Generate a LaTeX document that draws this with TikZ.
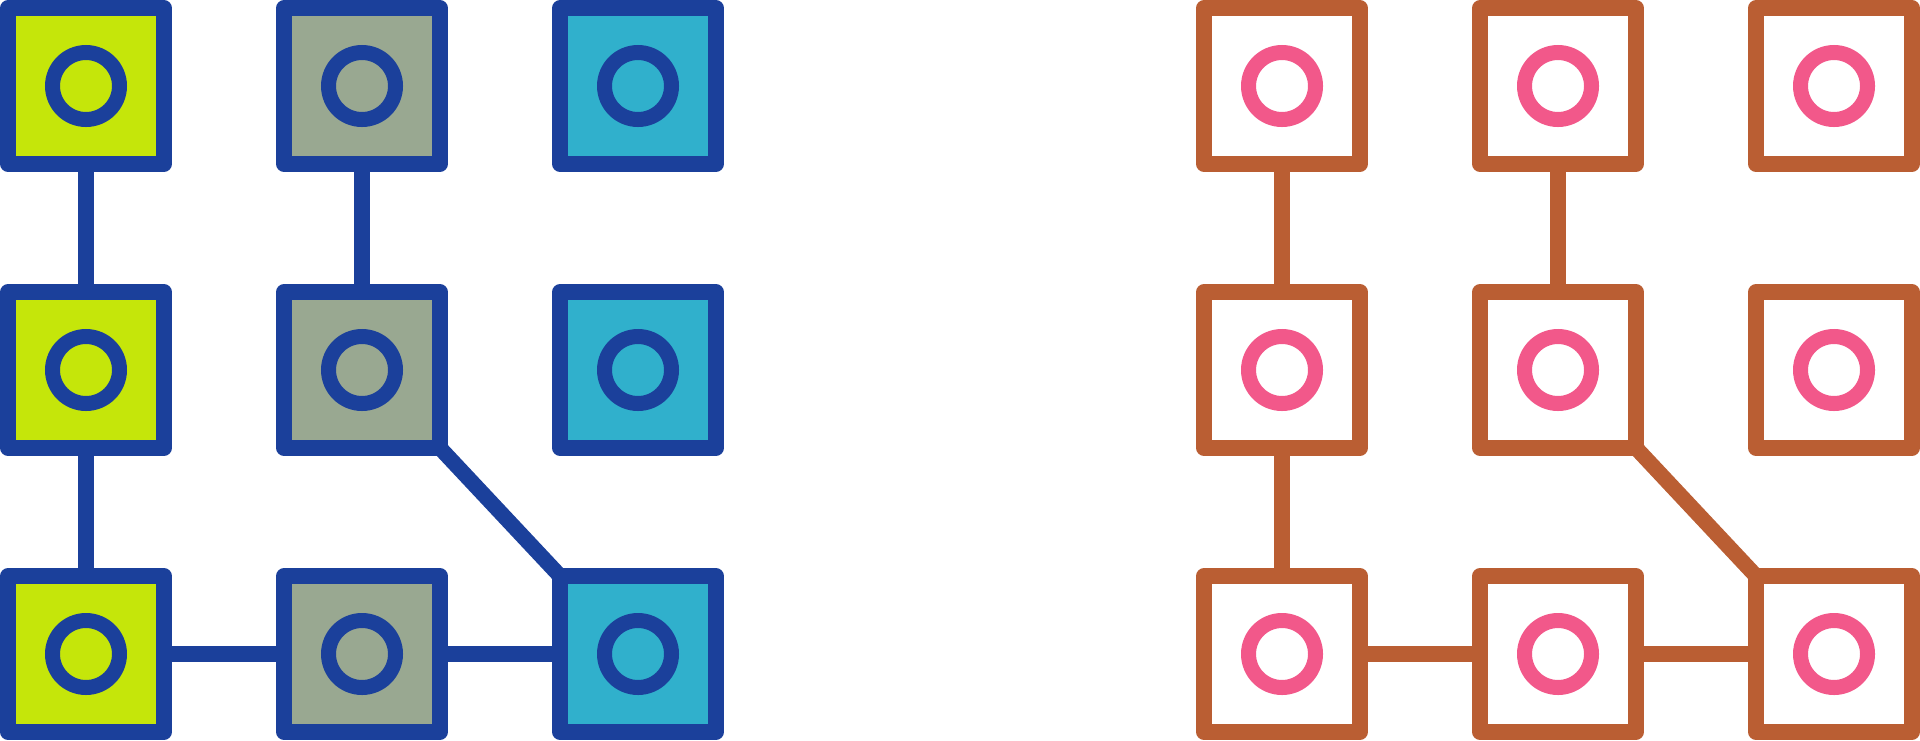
\documentclass[tikz,border=0pt]{standalone}
\definecolor{frameblue}{RGB}{27,64,155}
\definecolor{limefill}{RGB}{197,230,10}
\definecolor{sagefill}{RGB}{153,168,145}
\definecolor{cyanfill}{RGB}{48,176,204}
\definecolor{rustline}{RGB}{186,94,51}
\definecolor{rosedot}{RGB}{242,88,138}
\tikzset{every picture/.style={line width=0.75pt}}
\tikzset{
	tile/.style={draw, rectangle, minimum size=78pt, inner sep=0pt, outer sep=0pt, line width=7.75pt, line join=round},
	dot/.style={draw, circle, minimum size=33.5pt, inner sep=0pt, outer sep=0pt, line width=7.5pt},
	link/.style={line width=7.75pt}}
\begin{document}
\begin{tikzpicture}[x=0.5pt,y=0.5pt,yscale=-1,xscale=1]
	\useasboundingbox (0,0) rectangle (1920,740);
	
	%Shape: Square -- coloured icon, column 1
	\node [tile, draw=frameblue, fill=limefill] (L11) at (86,86) {};
	\node [tile, draw=frameblue, fill=limefill] (L21) at (86,370) {};
	\node [tile, draw=frameblue, fill=limefill] (L31) at (86,654) {};
	%Shape: Square -- coloured icon, column 2
	\node [tile, draw=frameblue, fill=sagefill] (L12) at (362,86) {};
	\node [tile, draw=frameblue, fill=sagefill] (L22) at (362,370) {};
	\node [tile, draw=frameblue, fill=sagefill] (L32) at (362,654) {};
	%Shape: Square -- coloured icon, column 3
	\node [tile, draw=frameblue, fill=cyanfill] (L13) at (638,86) {};
	\node [tile, draw=frameblue, fill=cyanfill] (L23) at (638,370) {};
	\node [tile, draw=frameblue, fill=cyanfill] (L33) at (638,654) {};
	
	%Shape: Circle -- coloured icon
	\node [dot, draw=frameblue] (L11c) at (L11) {};
	\node [dot, draw=frameblue] (L21c) at (L21) {};
	\node [dot, draw=frameblue] (L31c) at (L31) {};
	\node [dot, draw=frameblue] (L12c) at (L12) {};
	\node [dot, draw=frameblue] (L22c) at (L22) {};
	\node [dot, draw=frameblue] (L32c) at (L32) {};
	\node [dot, draw=frameblue] (L13c) at (L13) {};
	\node [dot, draw=frameblue] (L23c) at (L23) {};
	\node [dot, draw=frameblue] (L33c) at (L33) {};
	
	%Straight Lines -- coloured icon
	\draw [link, frameblue] (L11) -- (L21) ;
	\draw [link, frameblue] (L21) -- (L31) ;
	\draw [link, frameblue] (L12) -- (L22) ;
	\draw [link, frameblue] (L22.south east) -- (L33.north west) ;
	\draw [link, frameblue] (L31) -- (L32) ;
	\draw [link, frameblue] (L32) -- (L33) ;
	
	%Shape: Square -- outline icon
	\node [tile, draw=rustline, fill=white] (R11) at (1282,86) {};
	\node [tile, draw=rustline, fill=white] (R21) at (1282,370) {};
	\node [tile, draw=rustline, fill=white] (R31) at (1282,654) {};
	\node [tile, draw=rustline, fill=white] (R12) at (1558,86) {};
	\node [tile, draw=rustline, fill=white] (R22) at (1558,370) {};
	\node [tile, draw=rustline, fill=white] (R32) at (1558,654) {};
	\node [tile, draw=rustline, fill=white] (R13) at (1834,86) {};
	\node [tile, draw=rustline, fill=white] (R23) at (1834,370) {};
	\node [tile, draw=rustline, fill=white] (R33) at (1834,654) {};
	
	%Shape: Circle -- outline icon
	\node [dot, draw=rosedot] (R11c) at (R11) {};
	\node [dot, draw=rosedot] (R21c) at (R21) {};
	\node [dot, draw=rosedot] (R31c) at (R31) {};
	\node [dot, draw=rosedot] (R12c) at (R12) {};
	\node [dot, draw=rosedot] (R22c) at (R22) {};
	\node [dot, draw=rosedot] (R32c) at (R32) {};
	\node [dot, draw=rosedot] (R13c) at (R13) {};
	\node [dot, draw=rosedot] (R23c) at (R23) {};
	\node [dot, draw=rosedot] (R33c) at (R33) {};
	
	%Straight Lines -- outline icon
	\draw [link, rustline] (R11) -- (R21) ;
	\draw [link, rustline] (R21) -- (R31) ;
	\draw [link, rustline] (R12) -- (R22) ;
	\draw [link, rustline] (R22.south east) -- (R33.north west) ;
	\draw [link, rustline] (R31) -- (R32) ;
	\draw [link, rustline] (R32) -- (R33) ;
	
\end{tikzpicture}
\end{document}
